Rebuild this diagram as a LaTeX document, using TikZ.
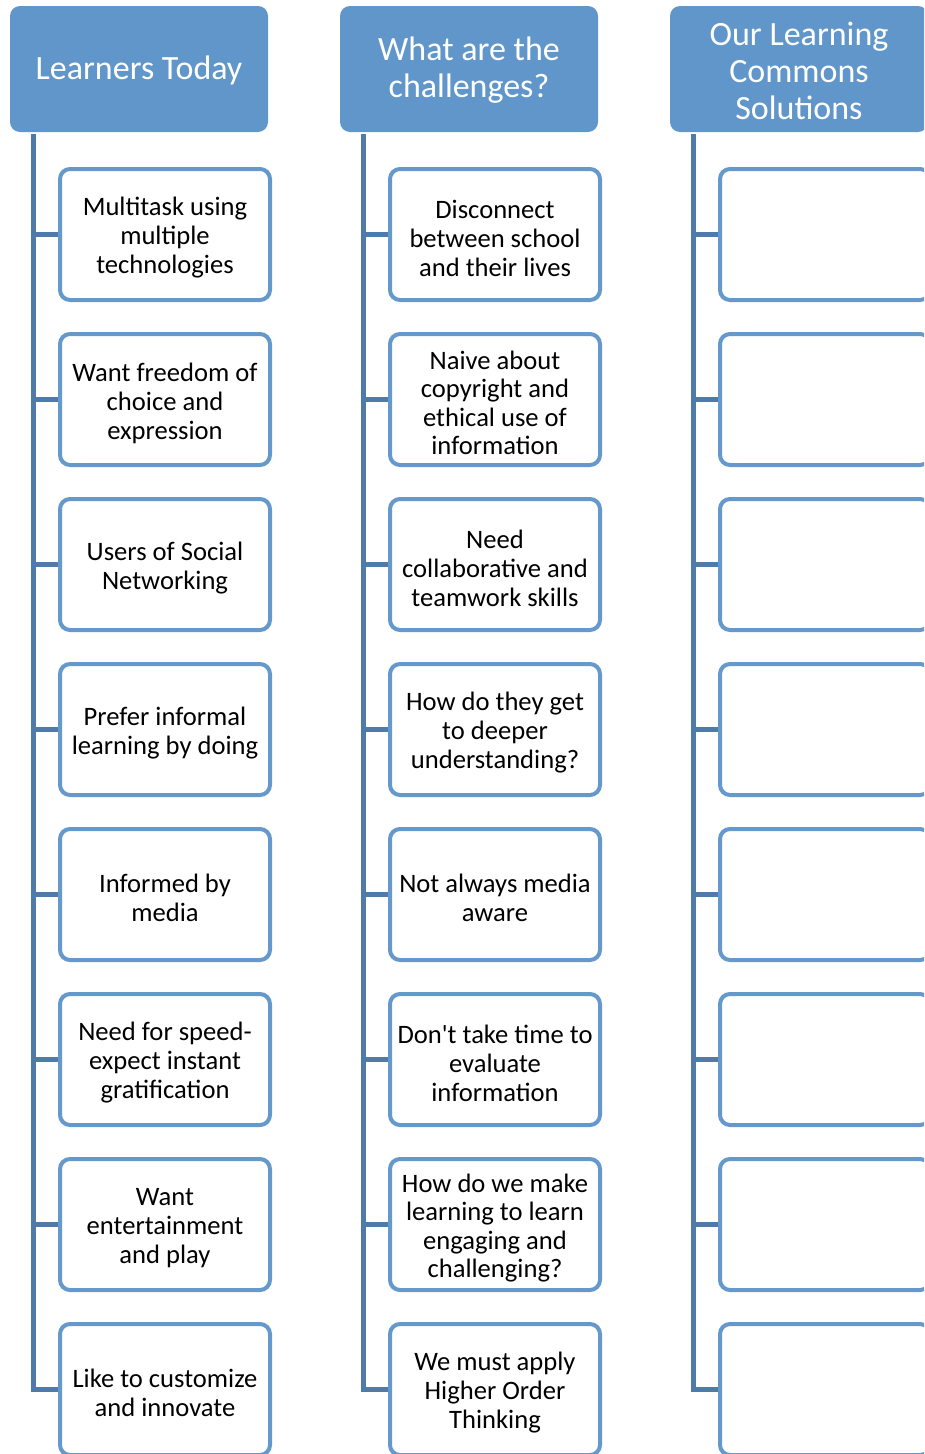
\documentclass[tikz,border=0pt]{standalone}
\usepackage{fontspec}
\setmainfont{Carlito}
\definecolor{headfill}{HTML}{6196CA}
\definecolor{boxline}{HTML}{6598CB}
\definecolor{trunk}{HTML}{4F7BAB}
\tikzset{
  head/.style={fill=headfill, draw=none, rounded corners=10pt, minimum width=258pt,
    minimum height=126pt, inner sep=0pt},
  headtext/.style={inner sep=0pt, align=center, text=white, yshift=-1.5pt,
    font=\fontsize{34}{37}\selectfont},
  item/.style={draw=boxline, line width=4pt, fill=white, rounded corners=10pt,
    minimum width=210pt, minimum height=131pt, inner sep=0pt},
  itemtext/.style={inner sep=0pt, align=center, yshift=-3.5pt,
    font=\fontsize{26.6}{29}\selectfont},
  tight/.style={font=\fontsize{26.6}{28.3}\selectfont},
  htxt/.style={label={[headtext]center:{#1}}},
  txt/.style={label={[itemtext]center:{#1}}},
  ttxt/.style={label={[itemtext,tight]center:{#1}}},
  conn/.style={draw=trunk, line width=5pt},
}
\begin{document}
\begin{tikzpicture}[x=1pt,y=1pt]
\useasboundingbox (0,0) rectangle (924,-1454);
\clip (0,0) rectangle (924,-1454);

% column headers
\node[head,htxt={Learners Today}] (h1) at (139,-69) {};
\node[head,htxt={What are the\\challenges?}] (h2) at (469,-69) {};
\node[head,htxt={Our Learning\\Commons\\Solutions}] (h3) at (799,-69) {};

% tops of the three trunks
\coordinate (t1) at (33,-134);
\coordinate (t2) at (363,-134);
\coordinate (t3) at (693,-134);

% first column
\node[item,txt={Multitask using\\multiple\\technologies}] (a1) at (165,-234.5) {};
\node[item,txt={Want freedom of\\choice and\\expression}] (a2) at (165,-399.5) {};
\node[item,txt={Users of Social\\Networking}] (a3) at (165,-564.5) {};
\node[item,txt={Prefer informal\\learning by doing}] (a4) at (165,-729.5) {};
\node[item,txt={Informed by\\media}] (a5) at (165,-894.5) {};
\node[item,txt={Need for speed-\\expect instant\\gratification}] (a6) at (165,-1059.5) {};
\node[item,txt={Want\\entertainment\\and play}] (a7) at (165,-1224.5) {};
\node[item,txt={Like to customize\\and innovate}] (a8) at (165,-1389.5) {};

% second column
\node[item,txt={Disconnect\\between school\\and their lives}] (b1) at (495,-234.5) {};
\node[item,ttxt={Naive about\\copyright and\\ethical use of\\information}] (b2) at (495,-399.5) {};
\node[item,txt={Need\\collaborative and\\teamwork skills}] (b3) at (495,-564.5) {};
\node[item,txt={How do they get\\to deeper\\understanding?}] (b4) at (495,-729.5) {};
\node[item,txt={Not always media\\aware}] (b5) at (495,-894.5) {};
\node[item,txt={Don\textquotesingle t take time to\\evaluate\\information}] (b6) at (495,-1059.5) {};
\node[item,ttxt={How do we make\\learning to learn\\engaging and\\challenging?}] (b7) at (495,-1224.5) {};
\node[item,txt={We must apply\\Higher Order\\Thinking}] (b8) at (495,-1389.5) {};

% third column (left empty)
\foreach \k in {1,...,8} {
  \node[item] (c\k) at (825,{-234.5-165*(\k-1)}) {};
}

% trunks and branches
\foreach \col/\t in {a/t1,b/t2,c/t3} {
  \foreach \k in {1,...,8} {
    \draw[conn] (\t) |- (\col\k.west);
  }
}
\end{tikzpicture}
\end{document}
